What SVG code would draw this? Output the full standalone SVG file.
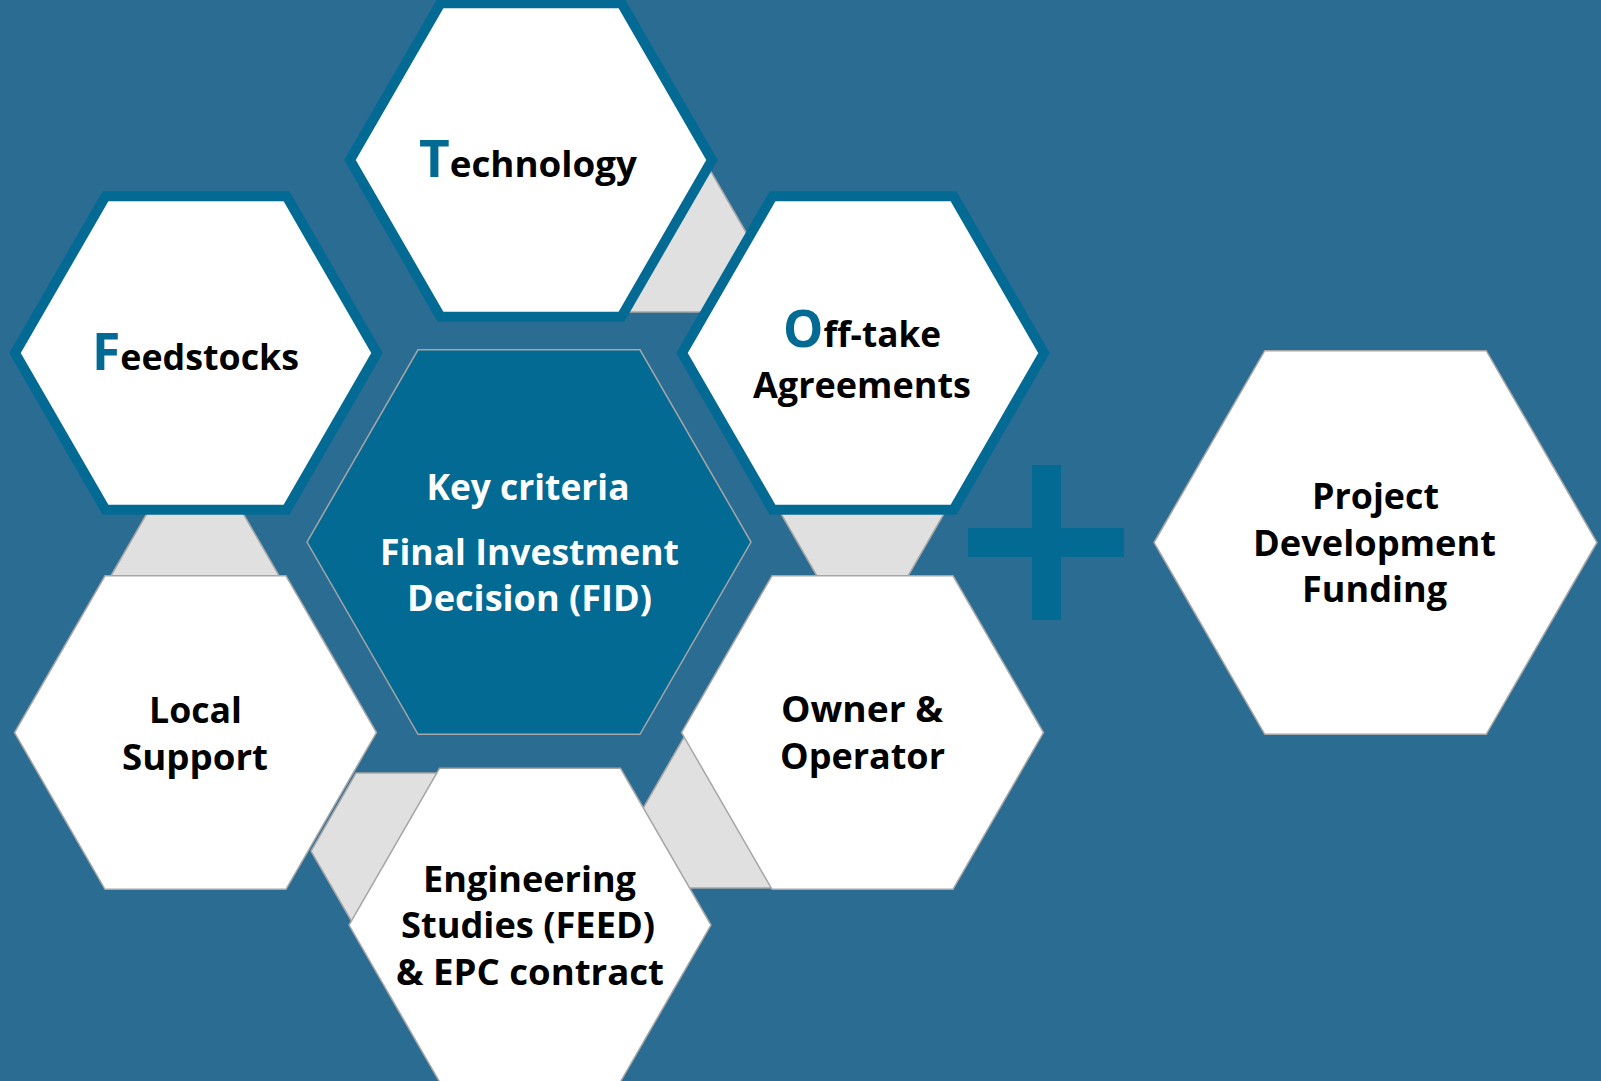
<svg xmlns="http://www.w3.org/2000/svg" width="1601" height="1081" viewBox="0 0 1601 1081">
  <style>
    .bg { fill: #2B6C93; }
    .link { fill: #E0E0E0; stroke: #A6A6A6; stroke-width: 1.5; }
    .hub { fill: #036A94; stroke: #A6A6A6; stroke-width: 1.5; }
    .framed { fill: #FFFFFF; stroke: #036A94; stroke-width: 10; stroke-linejoin: miter; }
    .plain { fill: #FFFFFF; stroke: #A6A6A6; stroke-width: 1.5; }
    .plus { fill: #036A94; }
    text { font-family: "Open Sans", "Liberation Sans", sans-serif; font-weight: 700; font-size: 36px; }
    .dark { fill: #000000; }
    .light { fill: #FFFFFF; }
    .mid { text-anchor: middle; }
    .cap { fill: #036A94; font-size: 52px; }
  </style>

  <rect class="bg" x="0" y="0" width="1601" height="1081"/>

  <!-- small grey hexagons linking neighbouring criteria (partly hidden) -->
  <g id="connectors">
    <polygon class="link" points="567,234 612,156.06 702,156.06 747,234 702,311.94 612,311.94"/>
    <polygon class="link" points="105,586 150,508.06 240,508.06 285,586 240,663.94 150,663.94"/>
    <polygon class="link" points="311,851 356,773.06 446,773.06 491,851 446,928.94 356,928.94"/>
    <polygon class="link" points="642,810 687,732.06 777,732.06 822,810 777,887.94 687,887.94"/>
    <polygon class="link" points="772.5,499 817.5,421.06 907.5,421.06 952.5,499 907.5,576.94 817.5,576.94"/>
  </g>

  <!-- central hexagon -->
  <g id="fid">
    <polygon class="hub" points="307,542 418,349.75 640,349.75 751,542 640,734.25 418,734.25"/>
    <text class="light mid" x="528" y="500" textLength="203" lengthAdjust="spacingAndGlyphs">Key criteria</text>
    <text class="light mid" x="529.5" y="565" textLength="299" lengthAdjust="spacingAndGlyphs">Final Investment</text>
    <text class="light mid" x="529.5" y="611" textLength="245" lengthAdjust="spacingAndGlyphs">Decision (FID)</text>
  </g>

  <g id="technology">
    <polygon class="framed" points="350,160 440.5,3.25 621.5,3.25 712,160 621.5,316.75 440.5,316.75"/>
    <text class="dark" x="419" y="177" textLength="218" lengthAdjust="spacingAndGlyphs"><tspan class="cap">T</tspan>echnology</text>
  </g>

  <g id="feedstocks">
    <polygon class="framed" points="15,353 105.5,196.25 286.5,196.25 377,353 286.5,509.75 105.5,509.75"/>
    <text class="dark" x="92" y="370" textLength="207" lengthAdjust="spacingAndGlyphs"><tspan class="cap">F</tspan>eedstocks</text>
  </g>

  <g id="offtake">
    <polygon class="framed" points="682,353 772.5,196.25 953.5,196.25 1044,353 953.5,509.75 772.5,509.75"/>
    <text class="dark" x="783" y="347" textLength="158" lengthAdjust="spacingAndGlyphs"><tspan class="cap">O</tspan>ff-take</text>
    <text class="dark mid" x="862" y="398" textLength="218" lengthAdjust="spacingAndGlyphs">Agreements</text>
  </g>

  <g id="local-support">
    <polygon class="plain" points="14.5,732.5 105,575.75 286,575.75 376.5,732.5 286,889.25 105,889.25"/>
    <text class="dark mid" x="195.5" y="723" textLength="93" lengthAdjust="spacingAndGlyphs">Local</text>
    <text class="dark mid" x="195" y="770" textLength="146" lengthAdjust="spacingAndGlyphs">Support</text>
  </g>

  <g id="engineering">
    <polygon class="plain" points="349,925 439.5,768.25 620.5,768.25 711,925 620.5,1081.75 439.5,1081.75"/>
    <text class="dark mid" x="529.5" y="892" textLength="213" lengthAdjust="spacingAndGlyphs">Engineering</text>
    <text class="dark mid" x="528" y="938" textLength="254" lengthAdjust="spacingAndGlyphs">Studies (FEED)</text>
    <text class="dark mid" x="530" y="985" textLength="268" lengthAdjust="spacingAndGlyphs">&amp; EPC contract</text>
  </g>

  <g id="owner-operator">
    <polygon class="plain" points="681.5,732.5 772,575.75 953,575.75 1043.5,732.5 953,889.25 772,889.25"/>
    <text class="dark mid" x="862" y="722" textLength="162" lengthAdjust="spacingAndGlyphs">Owner &amp;</text>
    <text class="dark mid" x="862.5" y="769" textLength="165" lengthAdjust="spacingAndGlyphs">Operator</text>
  </g>

  <!-- plus sign -->
  <g id="plus">
    <rect class="plus" x="968" y="528" width="156" height="29"/>
    <rect class="plus" x="1032" y="465" width="29" height="155"/>
  </g>

  <g id="project-funding">
    <polygon class="plain" points="1154,542.5 1264.75,350.7 1486.25,350.7 1597,542.5 1486.25,734.3 1264.75,734.3"/>
    <text class="dark mid" x="1375.5" y="509" textLength="127" lengthAdjust="spacingAndGlyphs">Project</text>
    <text class="dark mid" x="1374.5" y="556" textLength="243" lengthAdjust="spacingAndGlyphs">Development</text>
    <text class="dark mid" x="1374.5" y="602" textLength="145" lengthAdjust="spacingAndGlyphs">Funding</text>
  </g>
</svg>
